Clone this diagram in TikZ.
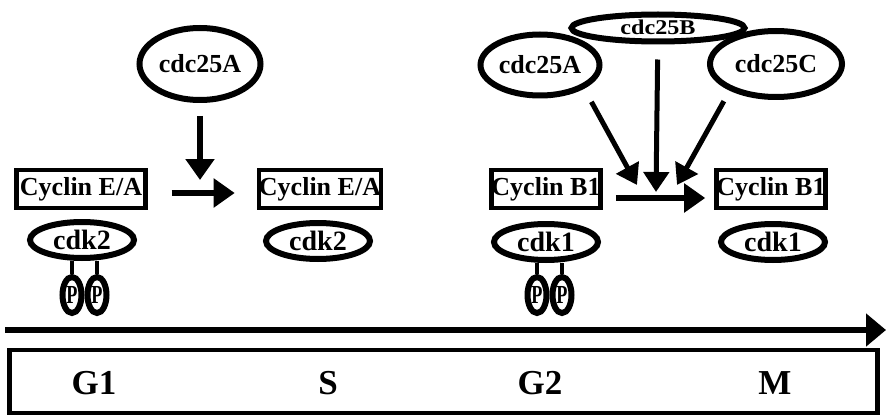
\documentclass[tikz,border=0pt]{standalone}
\usepackage{fontspec}
\setmainfont{Liberation Serif}
\usepackage{tikz}
\usetikzlibrary{arrows.meta, shapes.geometric}

\begin{document}
\begin{tikzpicture}[x=1pt, y=-1pt,
  cyc/.style={draw, rectangle, line width=4.5pt, minimum height=38pt,
              inner ysep=2pt, font=\fontsize{26}{28}\selectfont\bfseries},
  cdk/.style={draw, ellipse, line width=6pt, minimum width=104pt,
              minimum height=36pt, inner sep=0pt,
              font=\fontsize{28}{30}\selectfont\bfseries},
  cdc/.style={draw, ellipse, line width=6pt, inner sep=0pt,
              font=\fontsize{26}{28}\selectfont\bfseries},
  phos/.style={draw, ellipse, line width=6pt, minimum width=19pt,
               minimum height=36pt, inner sep=0pt,
               font=\fontsize{26}{28}\selectfont\bfseries},
  act/.style={line width=6pt, -{Triangle[length=21pt, width=28pt]}},
  conv/.style={line width=5pt, -{Triangle[length=20pt, width=25pt]}},
  lbl/.style={font=\fontsize{35}{38}\selectfont\bfseries},
]
\useasboundingbox (0,0) rectangle (886,417);

%% G1 -> S : cyclin E/A - cdk2
\node[cdc, minimum width=121pt, minimum height=72pt] (cdcAl) at (200,64) {cdc25A};
\node[cyc, minimum width=128pt] (cycEl) at (81,189) {Cyclin E/A};
\node[cyc, inner xsep=0pt] (cycEr) at (320,189) {Cyclin E/A};
\node[cdk] (cdkEl) at (82,240) {cdk2};
\node[cdk] (cdkEr) at (318,241) {cdk2};

\coordinate (jE) at (200,180);
\draw[act, shorten <=13pt] (cdcAl) -- (jE);
\draw[act, shorten <=24pt, shorten >=22pt]
  ([yshift=-4pt]cycEl.east) -- ([yshift=-4pt]cycEr.west);

%% G2 -> M : cyclin B1 - cdk1
\node[cdc, minimum width=119pt, minimum height=61pt] (cdcAr) at (540,65) {cdc25A};
\node[cdc, minimum width=173pt, minimum height=27pt, text height=14pt,
      text depth=0pt, font=\fontsize{21}{23}\selectfont\bfseries]
  (cdcB) at (658,28) {\scalebox{1.15}[1]{cdc25B}};
\node[cdc, minimum width=132pt, minimum height=66pt] (cdcC) at (776,64) {cdc25C};
\node[cyc, inner xsep=0pt] (cycBl) at (546,189) {Cyclin B1};
\node[cyc, inner xsep=0pt] (cycBr) at (771,189) {Cyclin B1};
\node[cdk] (cdkBl) at (546,242) {cdk1};
\node[cdk] (cdkBr) at (773,242) {cdk1};

\coordinate (jA) at (637,185);
\coordinate (jB) at (656,192);
\coordinate (jC) at (677,185);
\draw[conv, shorten <=15pt] (cdcAr.south east) -- (jA);
\draw[conv, shorten <=15pt] (cdcB) -- (jB);
\draw[conv, shorten <=12pt] (cdcC.-150) -- (jC);
\draw[act, shorten <=13pt, shorten >=9pt]
  ([yshift=-9pt]cycBl.east) -- ([yshift=-9pt]cycBr.west);

%% Phosphates on the inactive cdks
\foreach \x/\n/\k in {72/pEa/cdkEl, 97/pEb/cdkEl, 537/pBa/cdkBl, 562/pBb/cdkBl}{
  \node[phos] (\n) at (\x,295) {\scalebox{0.7}[1]{P}};
  \draw[line width=4.5pt] (\n.north) -- (\n.north |- \k.south);
}

%% Time axis and cell cycle phases
\coordinate (t0) at (5,330);
\coordinate (t1) at (886,330);
\draw[line width=6pt, -{Triangle[length=20pt, width=32pt]}] (t0) -- (t1);

\node[draw, line width=4.5pt, minimum width=868pt, minimum height=63pt]
  (phases) at (443.5,381.5) {};
\foreach \x/\p in {94/G1, 328/S, 540/G2, 775/M}{
  \node[lbl] (ph\p) at (\x,383) {\p};
}
\end{tikzpicture}
\end{document}
